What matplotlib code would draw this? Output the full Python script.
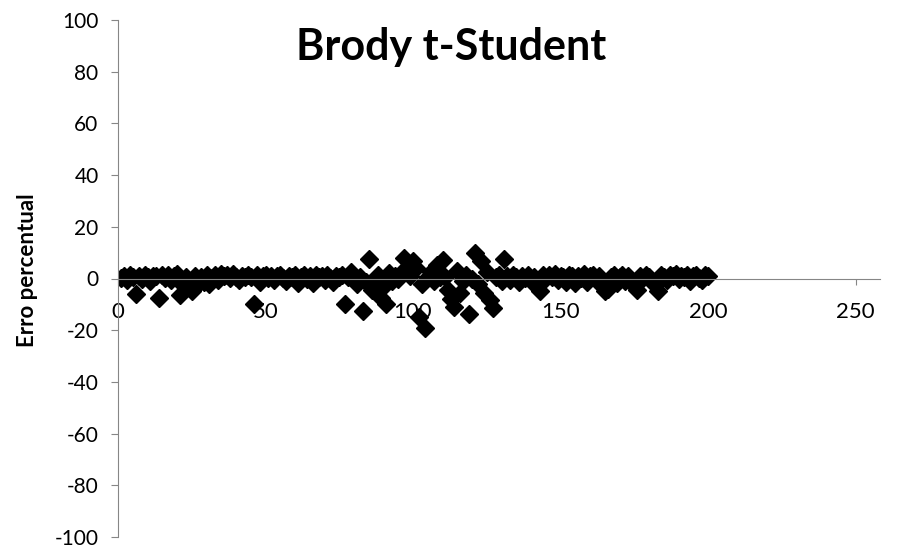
import matplotlib.pyplot as plt
import numpy as np

plt.rcParams['font.family'] = ['Lato', 'DejaVu Sans']
plt.rcParams['axes.unicode_minus'] = False

# erro percentual por amostra (1..200)
erro_ini = [0.2, 0.8, -0.5, 1.2, 0.4, -6, 1.0, -0.3, 1.4, 0.6,
            -0.8, 1.1, 0.9, -7.5, 1.5, 0.2, 1.3, -0.6, 0.8, 1.6,
            -6.5, -2.5, 0.7, -3, -5, 1.0, -2, 0.5, -1.2, 1.2,
            -2, 0.3, 1.5, -0.4, 1.8, 0.9, 1.3, 0.1, 1.6, 0.7,
            -0.5, 1.1, 0.4, 1.4, 0.6, -10, 1.2, -1.5, 0.8, 1.3,
            0.2, 1.0, -0.7, 0.9, 1.4, 0.3, -1.0, 1.1, 0.6, 1.5,
            -1.8, 0.4, 1.2, 0.0, 0.9, -1.6, 1.3, 0.5, 1.0, -0.6,
            1.4, 0.2, -1.2, 1.1, 0.7, 1.5]
erro_meio = [-10, 0.5, 2.7, 1, -2, 0.5, -12.4, -1.5, 7.4, -4.3,
             0, 1.5, -7.7, -3, -10, 2, -1, 1, 0, 2.3,
             8.1, 3.5, 1, 6.6, 4, -15, -2, -19, 0.5, 2.7,
             -1, 5.4, 0.5, 7, 0.4, -4.3, -8.1, -11.2, 3, -5.8,
             -1, 1.5, -13.9, 0, 9.7, -2.3, 6.6, -5.8, 2.7, -8.5,
             -11.6, 0.5, 1.2, -1, 7.4]
erro_fim = [0.9, -0.4, 1.3, 0.5, -1.5, 1.1, 0.2, 1.5, -0.8, 0.7,
            -2, -5, 1.2, 0.3, 1.4, 0.6, 1.8, -0.5, 1.0, 0.4,
            -1.4, 1.3, 0.8, -1.8, 1.1, 0.2, 1.6, -1.2, 0.9, 1.3,
            -0.3, 1.0, -3, -5, -4, 0.6, 1.2, -1.6, 0.4, 1.4,
            -0.9, 0.8, -1.5, -2.5, -4.5, 1.1, 0.3, 1.5, 0.7, -1.0,
            -2.5, -5, 1.2, 0.5, -0.7, 1.3, 0.9, 1.6, -0.2, 1.1,
            0.6, 1.4, -1.1, 0.8, 1.2, 0.1, -0.5, 1.2, 1.0]

erro = np.array(erro_ini + erro_meio + erro_fim)
amostra = np.arange(1, len(erro) + 1)

xticks = [0, 50, 100, 150, 200, 250]
yticks = list(range(-100, 101, 20))

fig = plt.figure(figsize=(9.05, 5.5), dpi=100)
ax = fig.add_axes([118 / 905, 13 / 550, 762 / 905, 517 / 550])

ax.plot(amostra, erro, linestyle='none', marker='D', markersize=9,
        color='black')

# the x line runs a little past the last tick
ax.set_xlim(0, 258.3)
ax.set_ylim(-100, 100)
ax.set_xticks(xticks)
ax.set_yticks(yticks)

axis_grey = '#868686'
for s in ['top', 'right']:
    ax.spines[s].set_visible(False)
ax.spines['bottom'].set_position(('data', 0))
ax.spines['bottom'].set_color(axis_grey)
ax.spines['left'].set_color(axis_grey)

ax.tick_params(axis='x', direction='out', length=4, color=axis_grey,
               labelsize=16, pad=13)
ax.tick_params(axis='y', direction='out', length=5, color=axis_grey,
               labelsize=15, pad=9)

ax.set_ylabel('Erro percentual', fontsize=16, fontweight='bold')
ax.yaxis.set_label_coords(-0.105, 0.516)

fig.text(451 / 905, 1 - 47 / 550, 'Brody t-Student', fontsize=31,
         fontweight='bold', ha='center', va='center')

fig.savefig('out.png', dpi=100)
